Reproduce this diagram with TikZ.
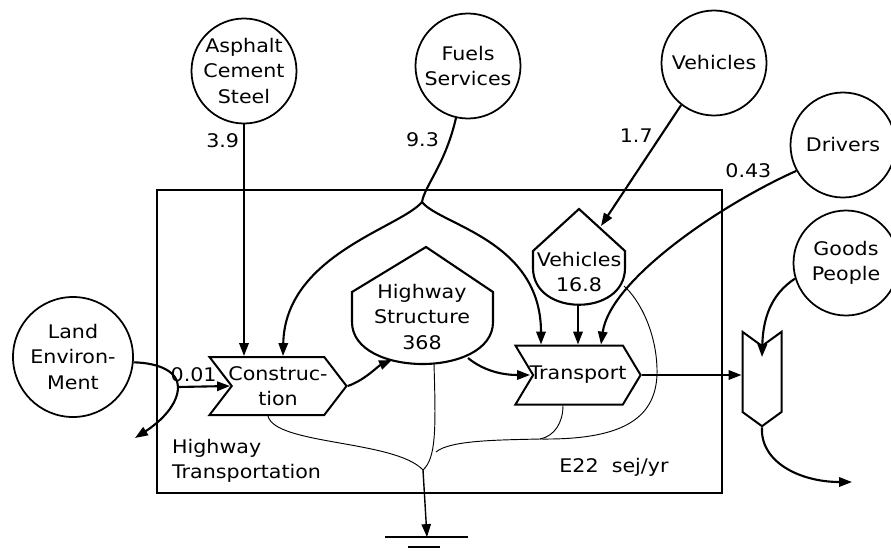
\documentclass[tikz,border=0pt]{standalone}
\usepackage{fontspec}
\setmainfont[FakeStretch=1.1]{DejaVu Sans}
\usetikzlibrary{shapes.symbols,arrows.meta,calc}

\begin{document}
\begin{tikzpicture}[x=0.03cm,y=-0.03cm,font=\fontsize{16}{21.5}\selectfont,
 src/.style={circle,draw,line width=1.5pt,inner sep=0pt,align=center,minimum size=3.15cm},
 tag/.style={signal,draw,line width=1.7pt,inner ysep=0pt,inner xsep=-3pt,align=center,signal pointer angle=105,signal to=east,signal from=west},
 flow/.style={-{Triangle[length=11pt,width=8pt]},line width=1.8pt},
 heat/.style={line width=0.8pt},
 tank/.style={line width=1.8pt,line join=miter}]
\useasboundingbox (0,0) rectangle (891,552);
\draw[line width=1.2pt] (157,190) rectangle (722,493);
% sources
\node[src] (asp) at (244,71) {Asphalt\\Cement\\Steel};
\node[src] (fuel) at (468,66) {Fuels\\Services};
\node[src] (veh) at (714,63) {Vehicles};
\node[src] (drv) at (843,145) {Drivers};
\node[src] (goods) at (846,263) {Goods\\People};
\node[src,minimum size=3.6cm] (land) at (73,357) {Land\\Environ-\\Ment};
% storages
\draw[tank] (352,292) -- (426,247) -- (493,292) -- (493,322) .. controls (493,378) and (352,378) .. (352,322) -- cycle;
\node[align=center] (hs) at (422,317) {Highway\\Structure\\368};
\draw[tank] (533,251) -- (579,209) -- (625,251) -- (625,268) .. controls (625,317) and (533,317) .. (533,268) -- cycle;
\node[align=center] (vt) at (579,272) {Vehicles\\16.8};
\coordinate (hsb) at (434,364);
\coordinate (hsr) at (468,358);
\coordinate (hsl) at (392,360);
\coordinate (vtb) at (578,305);
\coordinate (vtr) at (624,286);
\coordinate (vin) at (601,226);
% processes
\node[tag,minimum width=4.11cm,minimum height=1.74cm] (con) at (278,386) {Construc-\\tion};
\node[tag,signal pointer angle=118,minimum width=3.75cm,minimum height=1.77cm] (tr) at (578,375) {Transport};
\node[tag,signal to=south,signal from=north,signal pointer angle=108,inner sep=0pt,minimum width=1.17cm,minimum height=1.98cm] (snk) at (762,379) {};
\node[align=left,anchor=west] (ht) at (168,461) {Highway\\Transportation};
\node (unit) at (614,467) {E22~~sej/yr};
% junctions
\coordinate (fsplit) at (422,202);
\coordinate (lsplit) at (178,387);
\coordinate (lout) at (135,438);
\coordinate (gout) at (852,482);
\coordinate (hj) at (423,470);
\coordinate (hm) at (436,452);
\coordinate (hr) at (540,439);
\coordinate (gnd) at (427,537);
% inflows
\draw[flow] (asp.south) -- (asp.south |- con.north) node[pos=0.07,left]{3.9};
\draw[line width=1.8pt] (fuel.-103) .. controls (445,165) and (425,185) .. (fsplit) node[pos=0.17,left=5pt]{9.3};
\draw[flow] (fsplit) .. controls (400,228) and (285,255) .. ($(con.north)+(5,0)$);
\draw[flow] (fsplit) .. controls (440,225) and (541,240) .. ($(tr.north)+(-37,0)$);
\draw[flow] (veh.232) -- (vin) node[pos=0.25,left=3pt]{1.7};
\draw[flow] (drv.209) node[anchor=east,xshift=-0.6cm]{0.43} .. controls (720,205) and (610,280) .. ($(tr.north)+(23,0)$);
\draw[flow] (vtb) -- (tr.north);
\draw[flow] (hsr) .. controls (485,372) and (505,375) .. ($(tr.center)+(-48,0)$);
\draw[flow] (con.east) .. controls (365,380) and (378,366) .. (hsl);
\draw[line width=1.8pt] (land.-5) .. controls (160,363) and (178,372) .. (lsplit);
\draw[flow] (lsplit) .. controls (178,405) and (160,422) .. (lout);
\draw[flow] (lsplit) -- ($(con.center)+(-48,0)$) node[pos=0.3,above]{0.01};
% outflows
\draw[flow] (tr.east) -- (tr.east -| snk.west);
\draw[flow] (goods.197) .. controls (770,295) and (763,320) .. ($(snk.center)+(0,-22)$);
\draw[flow] (snk.south) .. controls (760,462) and (800,482) .. (gout);
% heat sink
\draw[heat] ($(con.south)+(-10,0)$) .. controls (275,445) and (395,440) .. (hj);
\draw[heat] (hsb) .. controls (436,430) and (436,458) .. (hj);
\draw[heat] (hm) .. controls (450,440) and (500,440) .. (hr);
\draw[heat] (hr) .. controls (555,436) and (563,422) .. ($(tr.south)+(-15,0)$);
\draw[heat] (hr) .. controls (620,440) and (655,420) .. (657,375) .. controls (658,335) and (640,300) .. (vtr);
\draw[flow,line width=1.2pt] (hj) -- (gnd);
\draw[line width=1.2pt] ($(gnd)+(-42,0)$) -- ($(gnd)+(41,0)$) ($(gnd)+(-19,10)$) -- ($(gnd)+(13,10)$);
\end{tikzpicture}
\end{document}
